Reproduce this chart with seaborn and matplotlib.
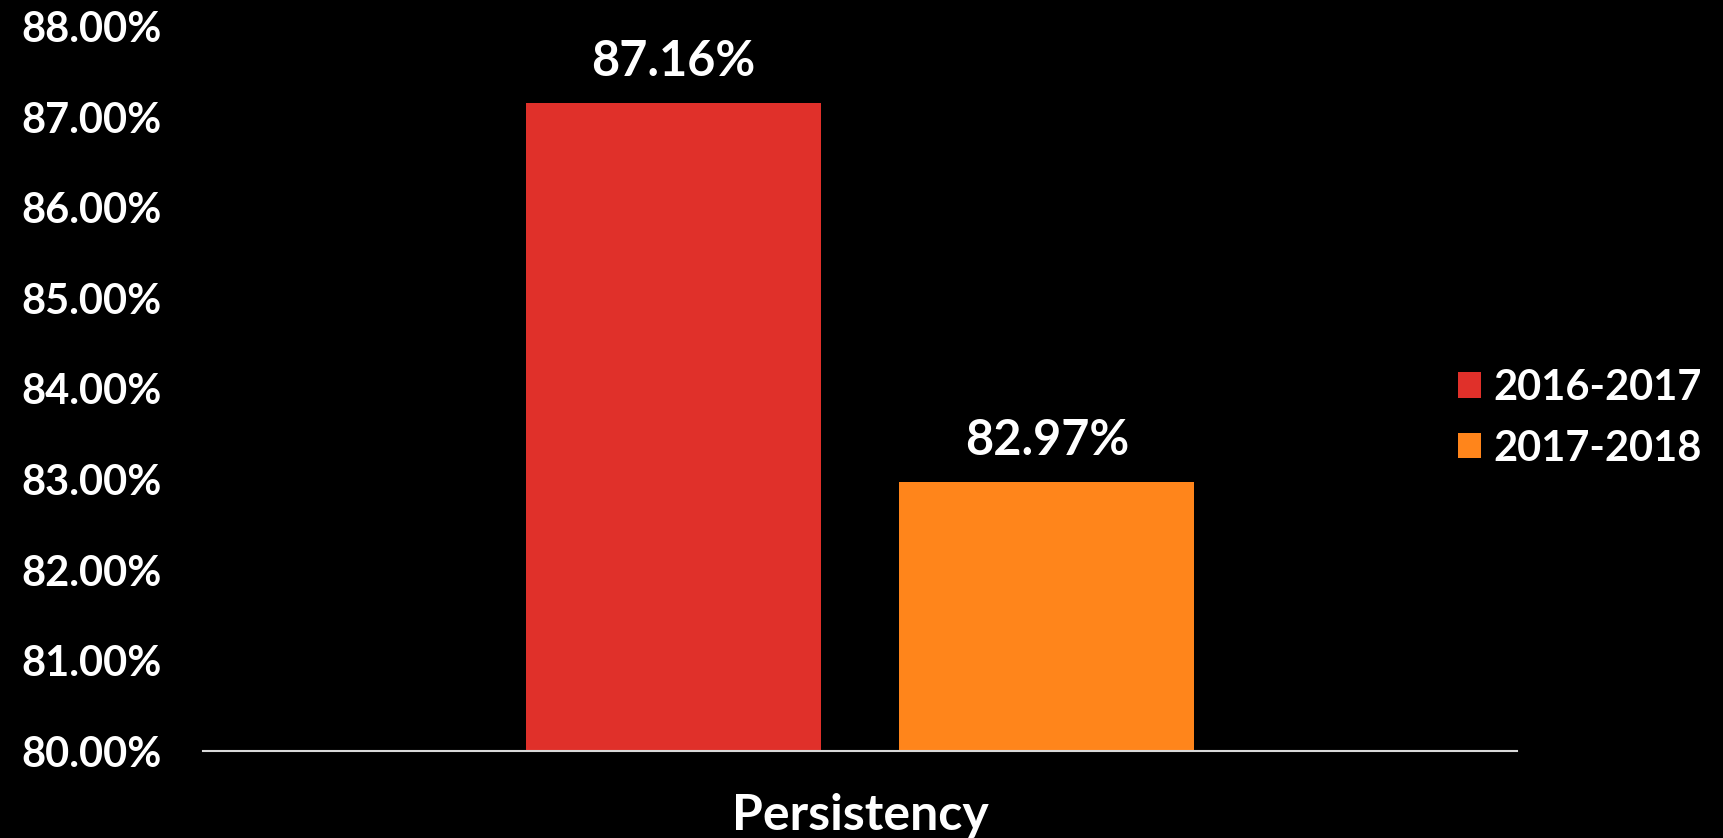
import matplotlib
matplotlib.use("Agg")
import matplotlib.pyplot as plt
import seaborn as sns
import pandas as pd

categories = ["Persistency"]
series = ["2016-2017", "2017-2018"]
values = [87.16, 82.97]
colors = ["#E0302A", "#FF851B"]
yticks = [80, 81, 82, 83, 84, 85, 86, 87, 88]

sns.set_theme(style="white")
plt.rcParams['font.family'] = ['Lato', 'DejaVu Sans']
plt.rcParams['font.weight'] = 'bold'

df = pd.DataFrame({"cat": categories * len(series), "series": series, "value": values})

fig = plt.figure(figsize=(17.23, 8.38), dpi=100, facecolor="black")
ax = fig.add_axes([0.1178, 0.1038, 0.7626, 0.864])
ax.set_facecolor("black")

sns.barplot(data=df, x="cat", y="value", hue="series", palette=colors,
            width=0.569, gap=0.211, saturation=1, linewidth=0, ax=ax, legend=True)

ax.set_ylim(80, 88)
ax.set_xlim(-0.5, 0.5)
ax.set_yticks(yticks)
ax.set_yticklabels([f"{t:.2f}%" for t in yticks], color="white", fontsize=30, fontweight="bold")
ax.tick_params(axis="y", length=0, pad=30)
ax.tick_params(axis="x", length=0, labelbottom=False)
ax.set_xlabel("Persistency", color="white", fontsize=36, fontweight="bold", labelpad=30)
ax.set_ylabel("")

for s in ["top", "right", "left"]:
    ax.spines[s].set_visible(False)
ax.spines["bottom"].set_color("#d9d9d9")
ax.spines["bottom"].set_linewidth(1.5)

for cont in ax.containers:
    ax.bar_label(cont, labels=[f"{v:.2f}%" for v in cont.datavalues], padding=14,
                 color="white", fontsize=35, fontweight="bold")

handles, labels = ax.get_legend_handles_labels()
ax.get_legend().remove()
leg = fig.legend(handles, labels, loc="center left", bbox_to_anchor=(0.846, 0.501),
                 frameon=False, fontsize=30, handlelength=0.55, handleheight=0.55,
                 handletextpad=0.3, labelspacing=0.55, borderaxespad=0, borderpad=0)
for t in leg.get_texts():
    t.set_color("white")
    t.set_fontweight("bold")

fig.savefig("out.png", dpi=100, facecolor="black")
